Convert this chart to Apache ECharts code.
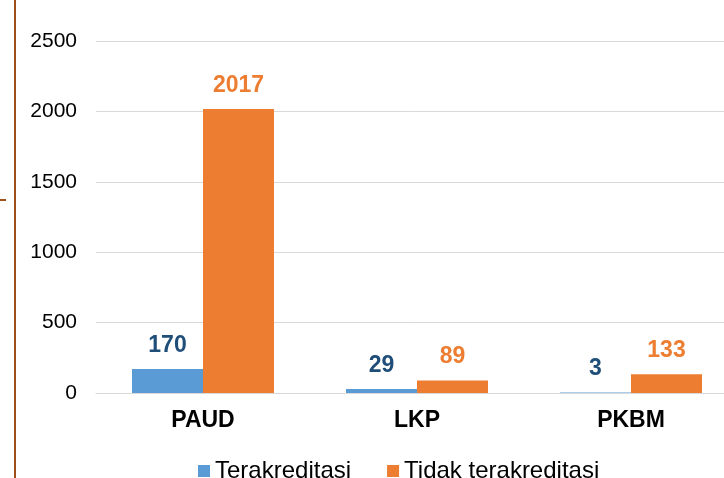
<!DOCTYPE html>
<html>
<head>
    <meta charset="utf-8" />
    <script src="https://cdn.jsdelivr.net/npm/echarts@6/dist/echarts.min.js"></script>
    <style>
        html, body { margin: 0; padding: 0; background: #fff; }
        #main { width: 724px; height: 478px; }
    </style>
</head>
<body>
    <div id="main"></div>
    <script>
        var categories = ['PAUD', 'LKP', 'PKBM'];
        var terakreditasi = [170, 29, 3];
        var tidakTerakreditasi = [2017, 89, 133];
        var seriesNames = ['Terakreditasi', 'Tidak terakreditasi'];

        var myChart = echarts.init(document.getElementById('main'));
        var font = '"Liberation Sans", Arial, sans-serif';

        var option = {
            animation: false,
            textStyle: { fontFamily: font },
            // plot area runs past the right edge of the picture
            grid: { left: 96, width: 642, top: 41, bottom: 85, outerBoundsMode: 'none', containLabel: false },
            legend: {
                data: seriesNames,
                left: 193,
                top: 454,
                itemWidth: 12,
                itemHeight: 12,
                itemGap: 36,
                icon: 'rect',
                textStyle: { fontSize: 24, color: '#000', fontFamily: font }
            },
            xAxis: {
                type: 'category',
                data: categories,
                axisLine: { lineStyle: { color: '#d9d9d9' } },
                axisTick: { show: false },
                axisLabel: { fontSize: 23, fontWeight: 'bold', color: '#000', margin: 16 }
            },
            yAxis: {
                type: 'value',
                min: 0,
                max: 2500,
                interval: 500,
                axisLine: { show: false },
                axisTick: { show: false },
                axisLabel: {
                    fontSize: 21, color: '#000', margin: 19,
                    formatter: function (v) { return String(v); }
                },
                splitLine: { lineStyle: { color: '#d9d9d9' } }
            },
            series: [
                {
                    name: seriesNames[0],
                    type: 'bar',
                    data: terakreditasi,
                    barWidth: 71,
                    barGap: '0%',
                    itemStyle: { color: '#5b9bd5' },
                    label: {
                        show: true, position: 'top', distance: 12,
                        fontSize: 23, fontWeight: 'bold', color: '#1f4e79'
                    }
                },
                {
                    name: seriesNames[1],
                    type: 'bar',
                    data: tidakTerakreditasi,
                    barWidth: 71,
                    barGap: '0%',
                    itemStyle: { color: '#ed7d31' },
                    label: {
                        show: true, position: 'top', distance: 12,
                        fontSize: 23, fontWeight: 'bold', color: '#ed7d31'
                    }
                }
            ],
            graphic: [
                {
                    type: 'line',
                    shape: { x1: 15, y1: 0, x2: 15, y2: 478 },
                    style: { stroke: '#9c4f1c', lineWidth: 2 }
                },
                {
                    type: 'line',
                    shape: { x1: 0, y1: 200, x2: 6, y2: 200 },
                    style: { stroke: '#9c4f1c', lineWidth: 2 }
                }
            ]
        };

        myChart.setOption(option);
    </script>
</body>
</html>
